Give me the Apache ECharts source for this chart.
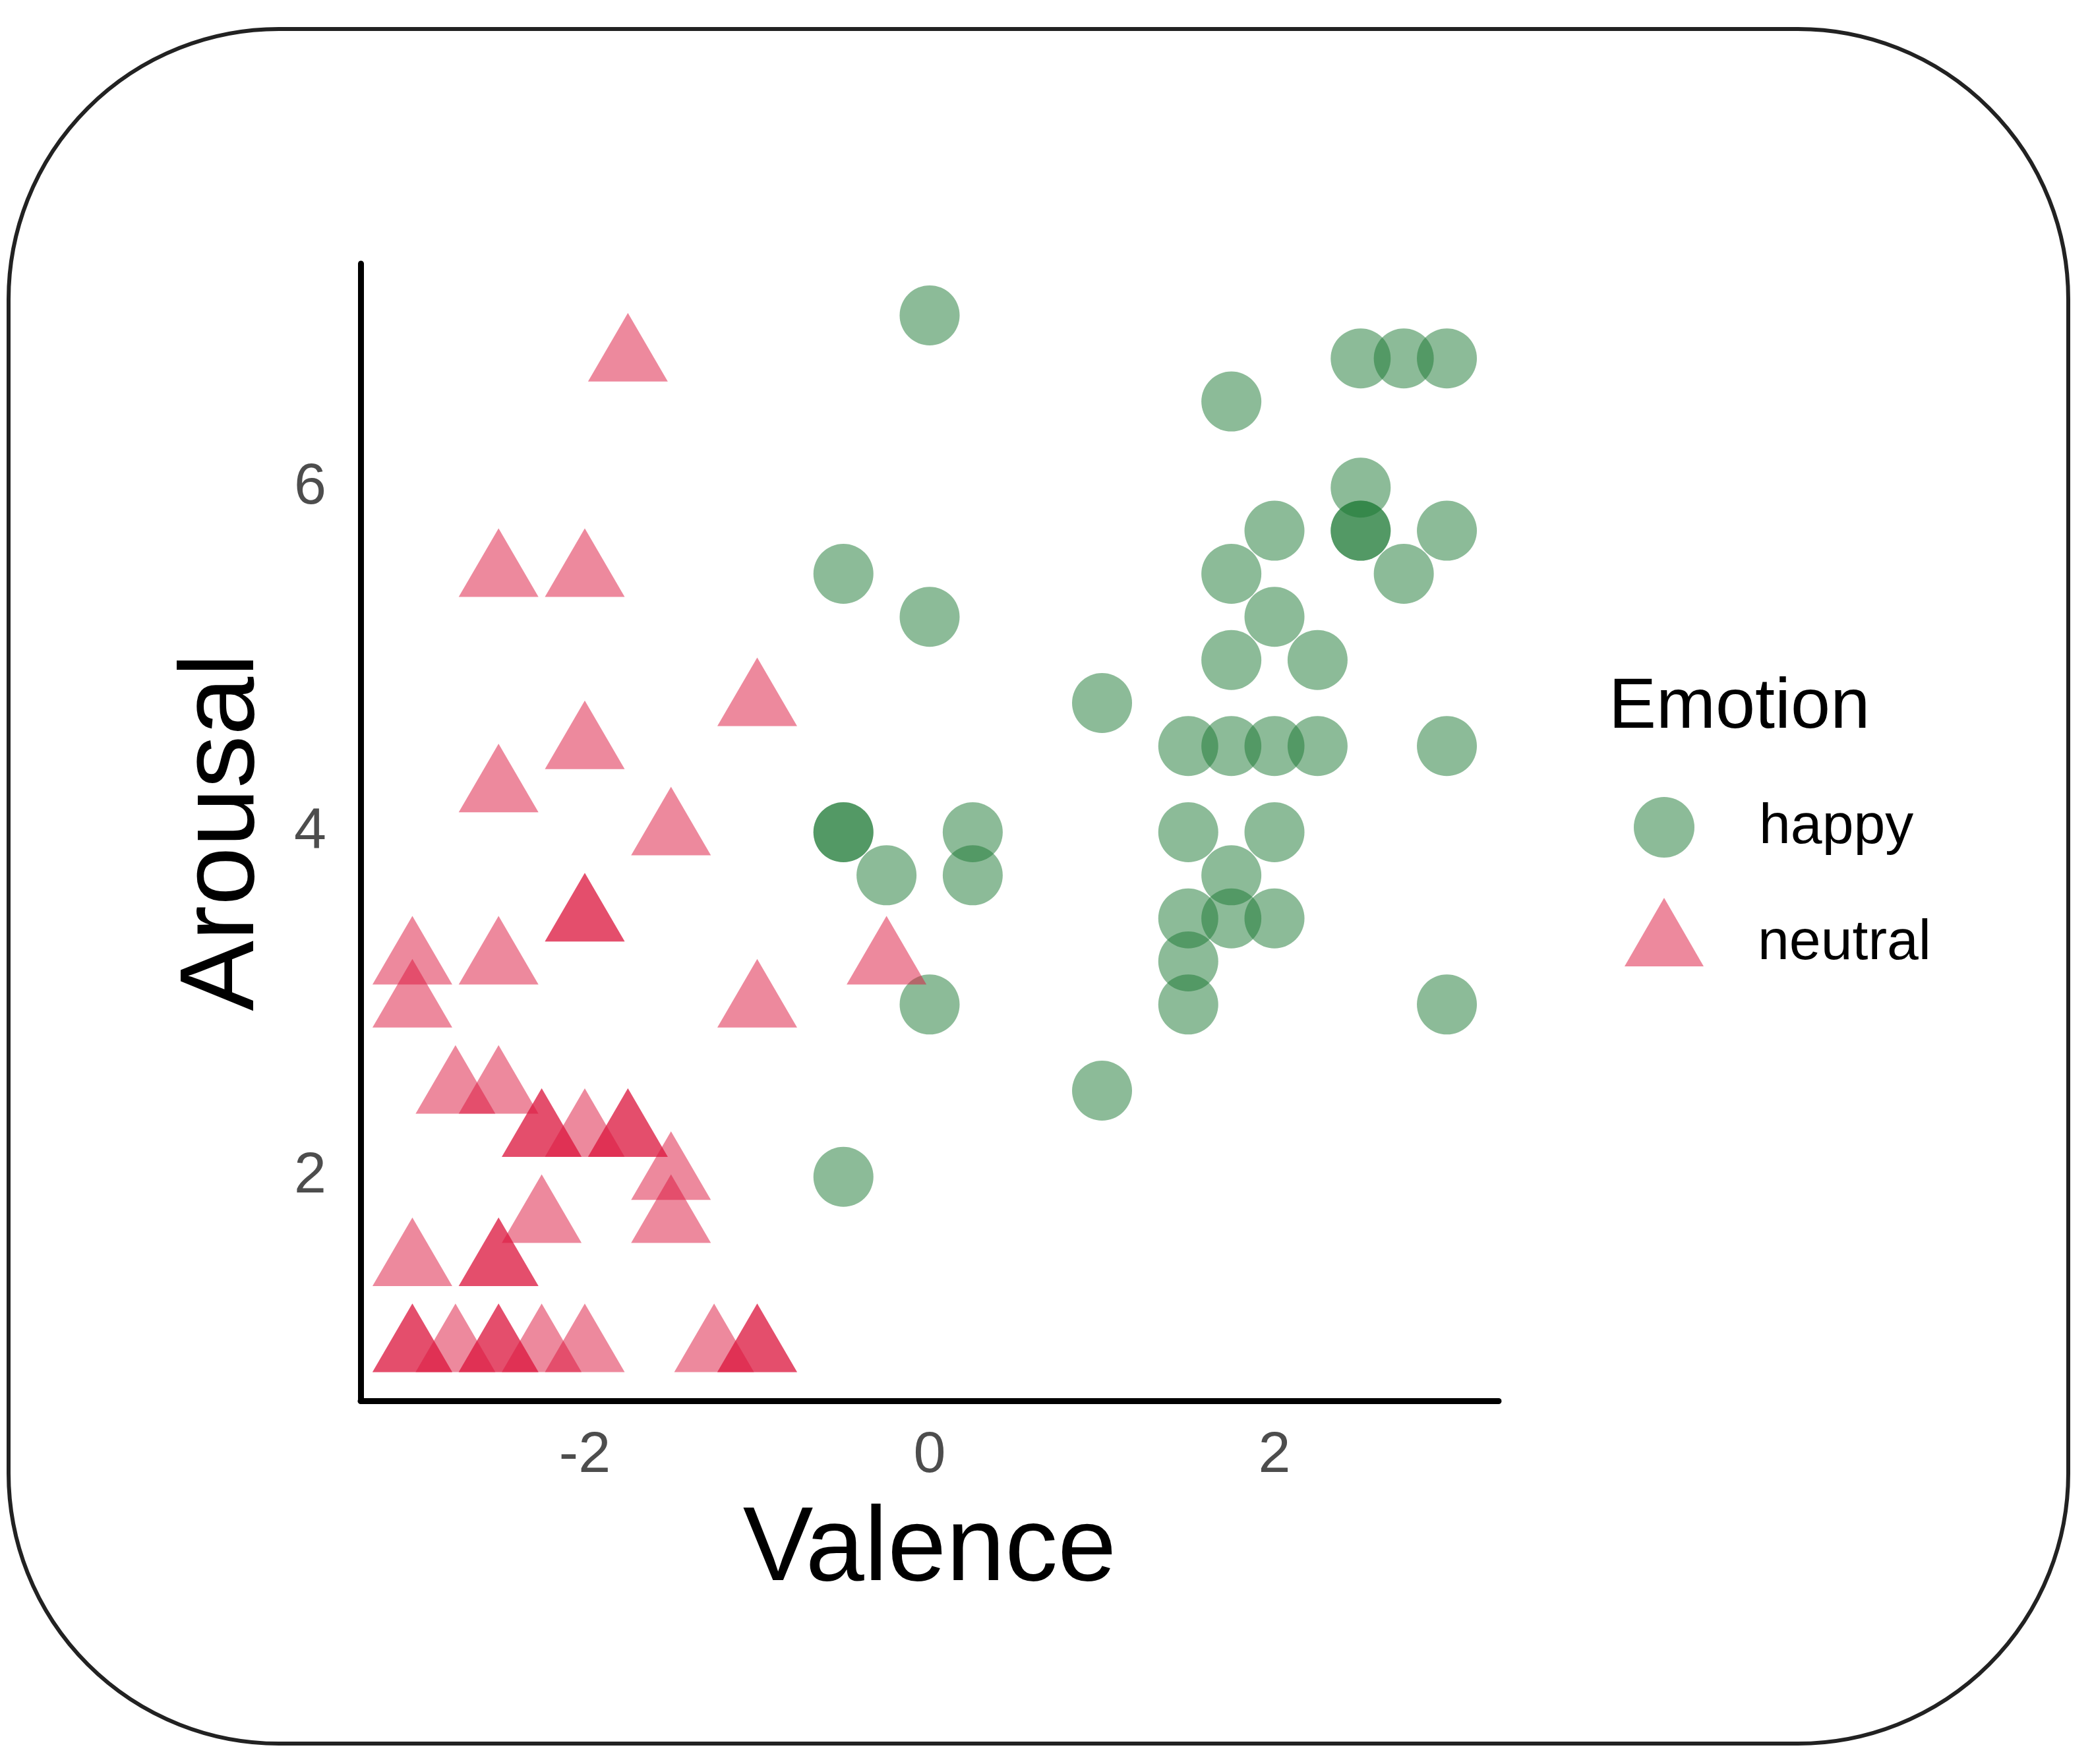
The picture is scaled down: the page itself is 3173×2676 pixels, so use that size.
<!DOCTYPE html>
<html>
<head>
<meta charset="utf-8">
<script src="https://cdn.jsdelivr.net/npm/echarts@6/dist/echarts.min.js"></script>
<style>
  html, body { margin: 0; padding: 0; background: #fff; }
  #chart { width: 3173px; height: 2676px; }
</style>
</head>
<body>
<div id="chart"></div>
<script>
// points (duplicates = overlapping, darker marks)
const happyValence = [0, 2.5, 2.75, 3, 1.75, 2.5, 2.5, 2.5, 2, 3, 2.75, 1.75, -0.5, 0, 2, 1.75, 2.25, 1,
  1.5, 1.75, 2, 2.25, 3, -0.5, -0.5, 0.25, 1.5, 2, -0.25, 0.25, 1.75, 1.5, 1.75, 2, 1.5, 0, 1.5, 3, 1, -0.5];
const happyArousal = [7, 6.75, 6.75, 6.75, 6.5, 6, 5.75, 5.75, 5.75, 5.75, 5.5, 5.5, 5.5, 5.25, 5.25, 5, 5, 4.75,
  4.5, 4.5, 4.5, 4.5, 4.5, 4, 4, 4, 4, 4, 3.75, 3.75, 3.75, 3.5, 3.5, 3.5, 3.25, 3, 3, 3, 2.5, 2];

const neutralValence = [-1.75, -2.5, -2, -1, -2, -2.5, -1.5, -2, -2, -3, -2.5, -0.25, -3, -1, -2.75, -2.5,
  -2.25, -2.25, -2, -1.75, -1.75, -1.5, -2.25, -1.5, -3, -2.5, -2.5,
  -3, -3, -2.75, -2.5, -2.5, -2.25, -2, -1.25, -1, -1];
const neutralArousal = [6.75, 5.5, 5.5, 4.75, 4.5, 4.25, 4, 3.5, 3.5, 3.25, 3.25, 3.25, 3, 3, 2.5, 2.5,
  2.25, 2.25, 2.25, 2.25, 2.25, 2, 1.75, 1.75, 1.5, 1.5, 1.5,
  1, 1, 1, 1, 1, 1, 1, 1, 1, 1];

const xTicks = [-2, 0, 2];
const yTicks = [2, 4, 6];

const happyColor = 'rgba(25,120,50,0.5)';
const neutralColor = 'rgba(220,20,60,0.5)';
const font = 'Liberation Sans';

function pairs(xs, ys) {
  return xs.map((x, i) => [x, ys[i]]);
}

let myChart = echarts.init(document.getElementById('chart'));

let option = {
  animation: false,
  backgroundColor: '#fff',
  textStyle: { fontFamily: font },
  graphic: [
    {
      type: 'rect',
      z: -1,
      shape: { x: 13, y: 44, width: 3124, height: 2601, r: 410 },
      style: { fill: 'none', stroke: '#222', lineWidth: 6 }
    }
  ],
  title: {
    text: 'Emotion',
    left: 2440,
    top: 1020,
    padding: 0,
    textStyle: { fontFamily: font, fontSize: 108, fontWeight: 'normal', color: '#000' }
  },
  legend: [
    {
      data: [{ name: 'happy', icon: 'circle' }],
      left: 2478,
      top: 1209,
      padding: 0,
      itemWidth: 184,
      itemHeight: 92,
      textStyle: { fontFamily: font, fontSize: 86, color: '#000', padding: [0, 0, 0, 47] }
    },
    {
      // trailing move point pads the box so the text lines up with the centroid
      data: [{ name: 'neutral', icon: 'path://M60,0 L120,104 L0,104 Z M60,138' }],
      left: 2464,
      top: 1362,
      padding: 0,
      itemWidth: 198,
      itemHeight: 138,
      textStyle: { fontFamily: font, fontSize: 86, color: '#000', padding: [0, 0, 0, 38] }
    }
  ],
  grid: { left: 547, right: 900, top: 400, bottom: 551, containLabel: false },
  xAxis: {
    type: 'value',
    min: -3.3,
    max: 3.3,
    name: 'Valence',
    nameLocation: 'middle',
    nameGap: 148,
    nameTextStyle: { fontFamily: font, fontSize: 160, color: '#000' },
    axisLine: { onZero: false, lineStyle: { color: '#000', width: 9 } },
    axisTick: { show: false },
    splitLine: { show: false },
    axisLabel: {
      customValues: xTicks,
      margin: 40,
      fontFamily: font,
      fontSize: 88,
      color: '#4d4d4d'
    }
  },
  yAxis: {
    type: 'value',
    min: 0.7,
    max: 7.3,
    name: 'Arousal',
    nameLocation: 'middle',
    nameRotate: 90,
    nameGap: 127,
    nameTextStyle: { fontFamily: font, fontSize: 160, color: '#000' },
    axisLine: { onZero: false, lineStyle: { color: '#000', width: 9 } },
    axisTick: { show: false },
    splitLine: { show: false },
    axisLabel: {
      customValues: yTicks,
      margin: 52,
      fontFamily: font,
      fontSize: 88,
      color: '#4d4d4d'
    }
  },
  series: [
    {
      name: 'happy',
      type: 'scatter',
      symbol: 'circle',
      symbolSize: 91,
      itemStyle: { color: happyColor, opacity: 1 },
      data: pairs(happyValence, happyArousal)
    },
    {
      name: 'neutral',
      type: 'scatter',
      symbol: 'triangle',
      symbolSize: [121, 104],
      symbolOffset: [0, -17],
      itemStyle: { color: neutralColor, opacity: 1 },
      data: pairs(neutralValence, neutralArousal)
    }
  ]
};

myChart.setOption(option);

window.addEventListener('resize', function() {
  myChart.resize();
});
</script>
</body>
</html>
